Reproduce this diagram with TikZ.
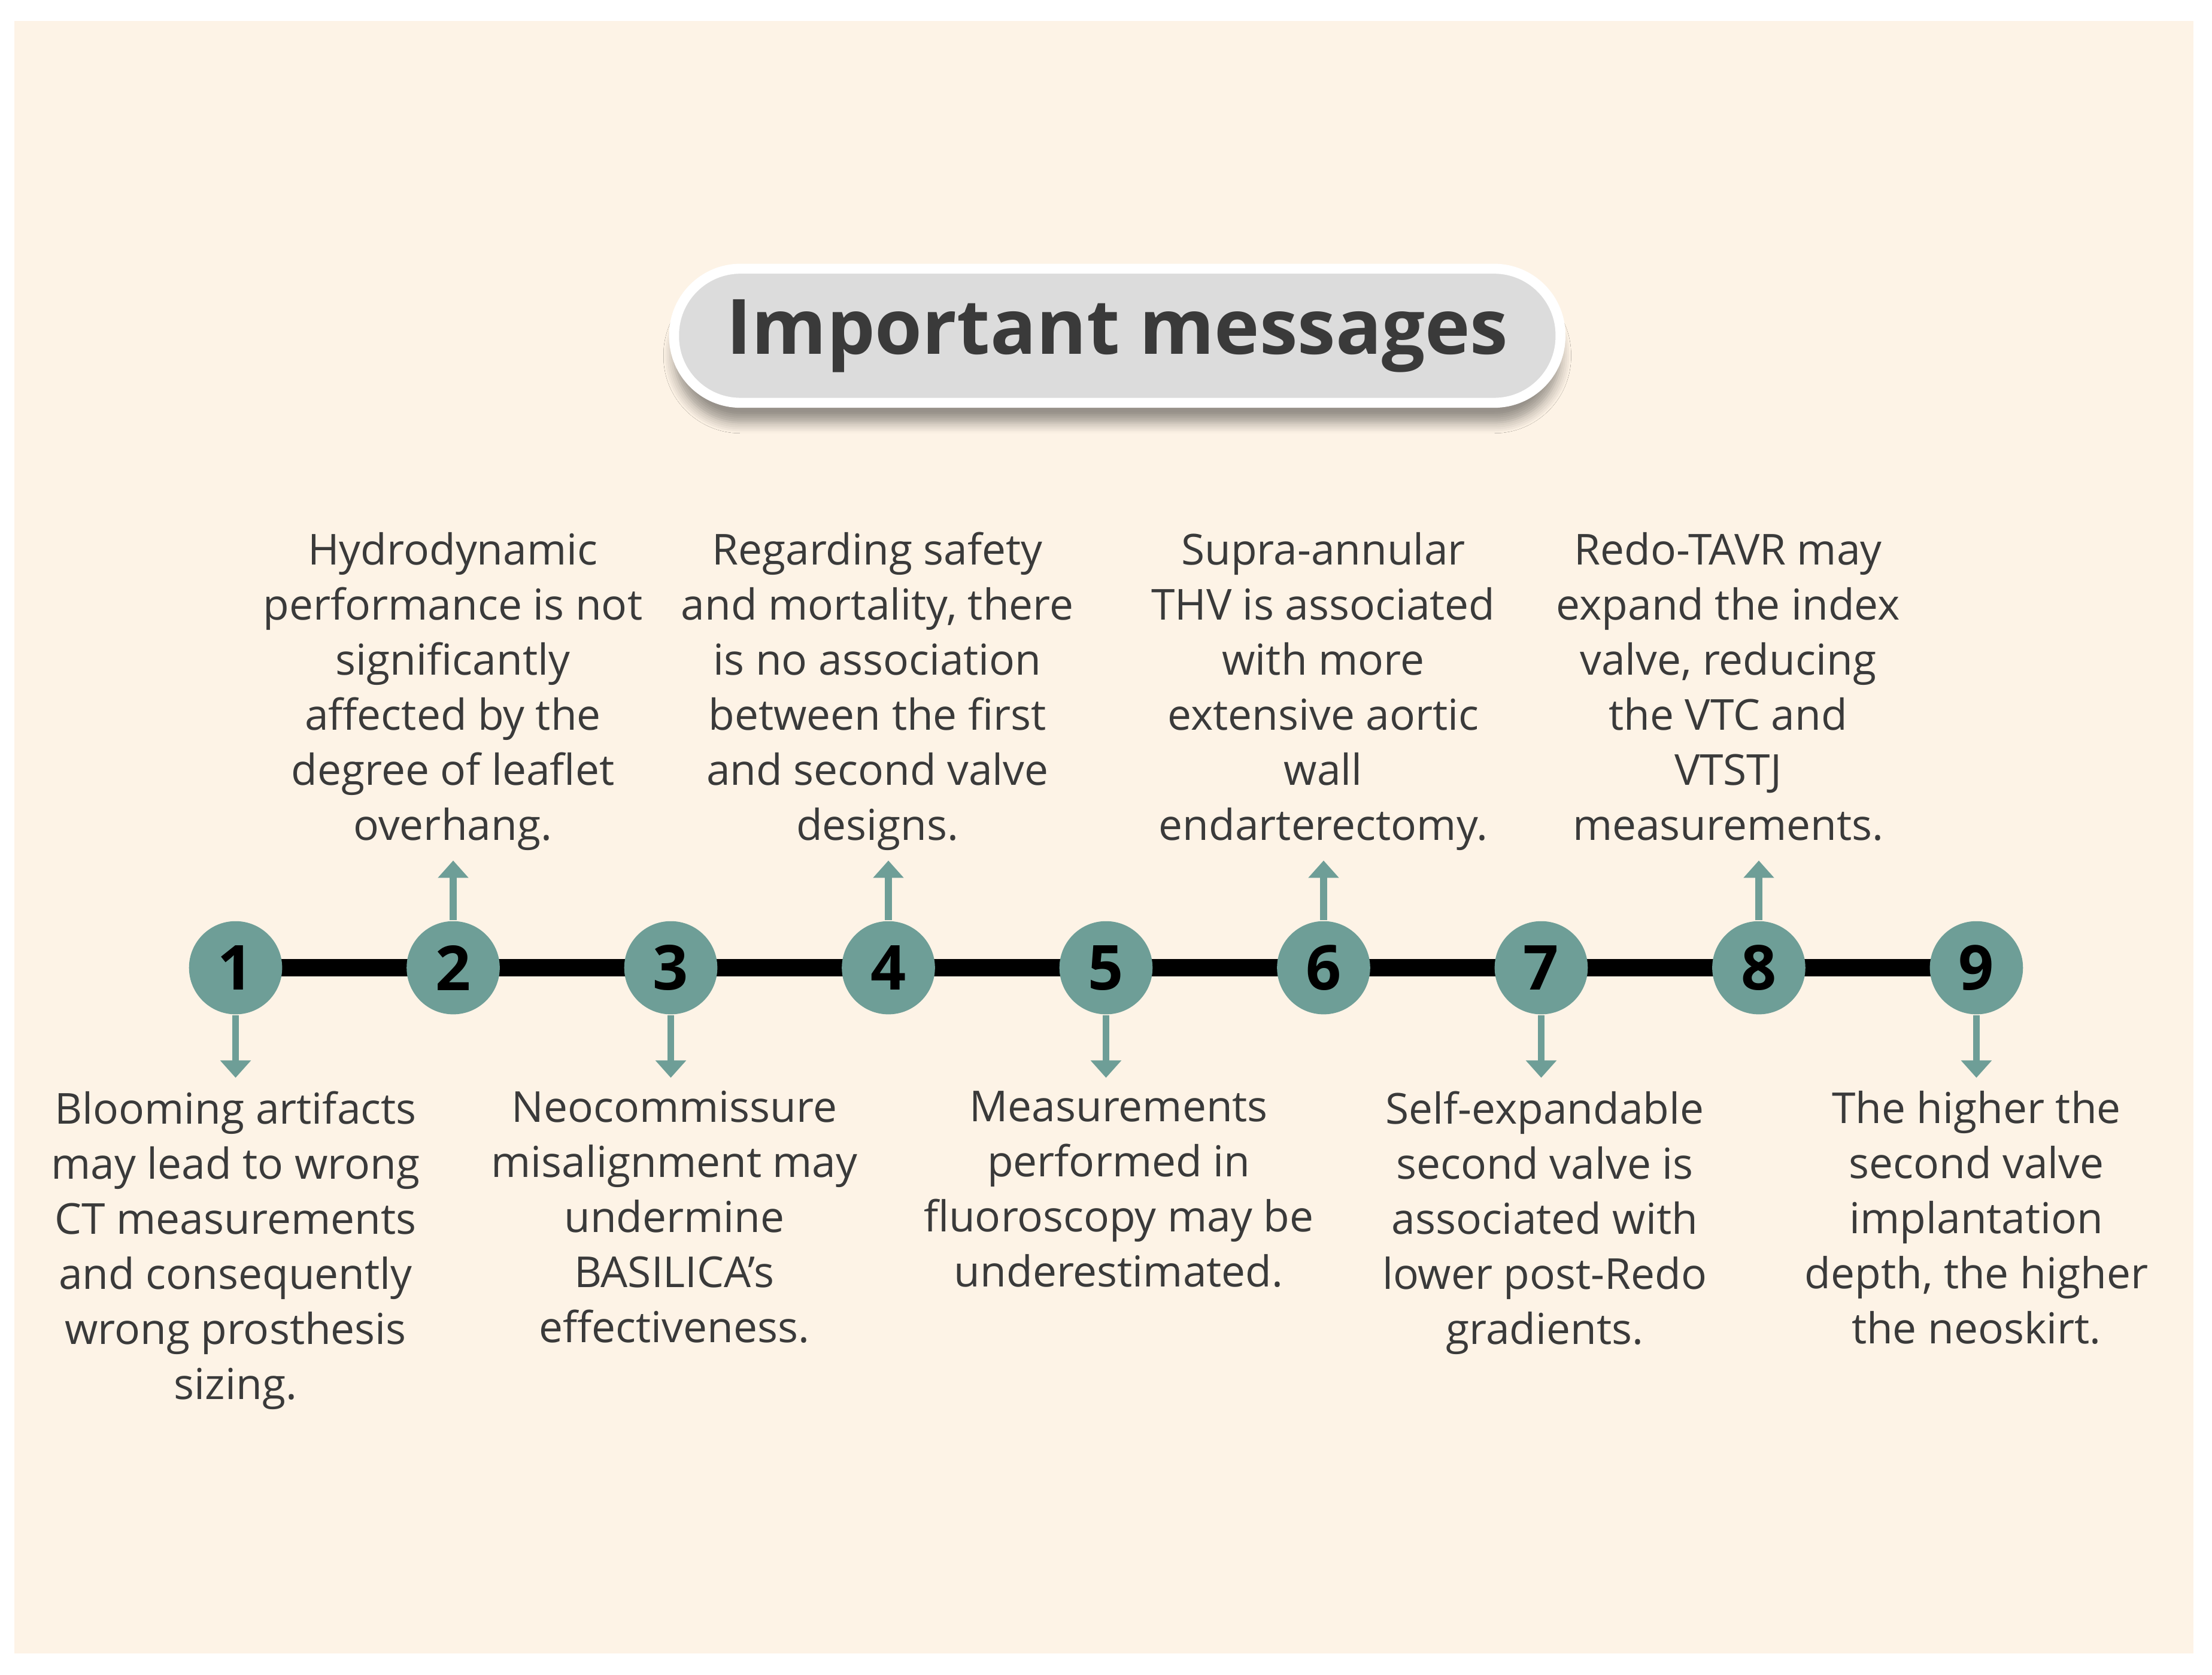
\documentclass[tikz,border=0pt]{standalone}
\usepackage{fontspec}
\setmainfont{Open Sans}
\usetikzlibrary{arrows.meta,shadows.blur}
\definecolor{bg}{HTML}{FDF3E6}
\definecolor{teal}{HTML}{6E9E97}
\definecolor{pill}{HTML}{DCDCDC}
\definecolor{txt}{HTML}{3A3A3A}
\begin{document}
\begin{tikzpicture}[x=0.01cm,y=-0.01cm,
 circ/.style={circle,fill=teal,minimum size=0.66cm,inner sep=0pt,font=\fontsize{12.5}{13}\selectfont\bfseries,text=black},
 lab/.style={align=center,text=txt,font=\fontsize{8.6}{11.1}\selectfont},
 arr/.style={teal,line width=1.4pt,-{Triangle[length=3.5pt,width=6pt]}}]
\useasboundingbox (0,0) rectangle (1568,1187);
\fill[white] (0,0) rectangle (1568,1187);
\fill[bg] (10,15) rectangle (1555,1172);
\node[draw=white,line width=2pt,fill=pill,rounded corners=0.47cm,minimum width=6.28cm,minimum height=0.95cm,
 blur shadow={shadow xshift=0pt,shadow yshift=-4pt,shadow blur steps=6},
 font=\fontsize{15.4}{16}\selectfont\bfseries,text=txt] (title) at (792,238) {Important messages};
\foreach \i in {1,...,9}{\coordinate (p\i) at ({167+(\i-1)*154.25},686);}
\draw[line width=3.5pt] (p1) -- (p9);
\foreach \i in {1,...,9}{\node[circ] (c\i) at (p\i) {\i};}
\foreach \i in {1,3,5,7,9}{\coordinate (d\i) at ($(p\i)+(0,78)$);}
\foreach \i in {2,4,6,8}{\coordinate (u\i) at ($(p\i)+(0,-76)$);}
\foreach \i in {1,3,5,7,9}{\draw[arr] (c\i.south) -- (d\i);}
\foreach \i in {2,4,6,8}{\draw[arr] (c\i.north) -- (u\i);}
\node[lab,anchor=north] (t2) at (321,365) {Hydrodynamic\\performance is not\\significantly\\affected by the\\degree of leaflet\\overhang.};
\node[lab,anchor=north] (t4) at (622,365) {Regarding safety\\and mortality, there\\is no association\\between the first\\and second valve\\designs.};
\node[lab,anchor=north] (t6) at (938,365) {Supra-annular\\THV is associated\\with more\\extensive aortic\\wall\\endarterectomy.};
\node[lab,anchor=north] (t8) at (1225,365) {Redo-TAVR may\\expand the index\\valve, reducing\\the VTC and\\VTSTJ\\measurements.};
\node[lab,anchor=north] (t1) at (167,761) {Blooming artifacts\\may lead to wrong\\CT measurements\\and consequently\\wrong prosthesis\\sizing.};
\node[lab,anchor=north] (t3) at (478,761) {Neocommissure\\misalignment may\\undermine\\BASILICA's\\effectiveness.};
\node[lab,anchor=north] (t5) at (793,761) {Measurements\\performed in\\fluoroscopy may be\\underestimated.};
\node[lab,anchor=north] (t7) at (1095,761) {Self-expandable\\second valve is\\associated with\\lower post-Redo\\gradients.};
\node[lab,anchor=north] (t9) at (1401,761) {The higher the\\second valve\\implantation\\depth, the higher\\the neoskirt.};
\end{tikzpicture}
\end{document}
